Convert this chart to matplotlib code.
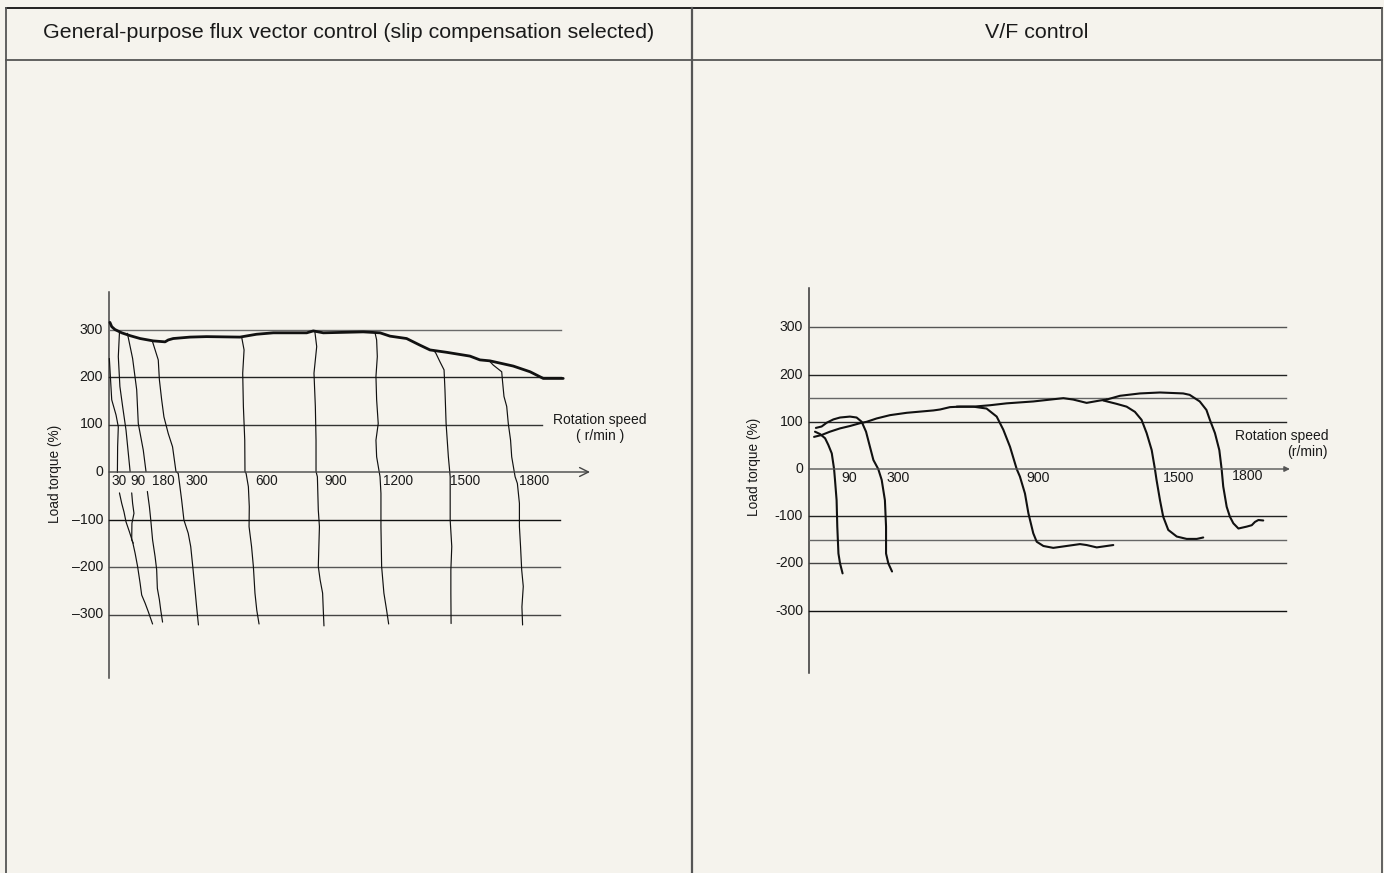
import matplotlib
matplotlib.use("Agg")
import matplotlib.pyplot as plt
import numpy as np

plt.rcParams['font.family'] = ['Liberation Sans', 'DejaVu Sans']

BG = '#f5f3ed'

# ---------------- DATA ----------------
# Left panel: General-purpose flux vector control
left_title = "General-purpose flux vector control (slip compensation selected)"
left_yticks = [300, 200, 100, 0, -100, -200, -300]
left_yticklabels = ["300", "200", "100", "0", "\u2013100", "\u2013200", "\u2013300"]
left_speed_labels = ["30", "90", "180", "300", "600", "900", "1200", "1500", "1800"]
left_speed_label_pos = [9, 92, 189, 339, 643, 947, 1207, 1502, 1806]

# envelope (maximum torque) curve: speed (r/min), torque (%)
env_speed = [4, 12, 26, 56, 93, 137, 195, 247, 261, 283, 357, 430, 577, 650, 724,
             871, 900, 944, 1120, 1194, 1238, 1311, 1370, 1414, 1487, 1590, 1634,
             1678, 1781, 1855, 1913, 2001]
env_torque = [315, 306, 300, 293, 287, 281, 276, 274, 278, 281, 284, 285, 284, 290, 293,
              293, 297, 293, 295, 293, 286, 281, 267, 257, 252, 244, 236,
              234, 223, 211, 197, 197]

# thin speed-torque curves (segments)
c30_up_s = [1.5, 12, 31, 41, 38, 37]
c30_up_t = [239, 152, 120, 95, 53, -1]
c30_lo_s = [46, 56, 66, 75, 90, 104, 115, 126, 137, 144, 159, 173, 192]
c30_lo_t = [-44, -66, -84, -105, -126, -147, -171, -199, -234, -259, -276, -294, -320]
c90_up_s = [46, 41, 48, 60, 75, 93]
c90_up_t = [293, 243, 180, 138, 88, 1]
c90_lo_s = [100, 104, 110, 101, 100, 107]
c90_lo_t = [-44, -66, -87, -108, -143, -150]
c180_up_s = [81, 104, 122, 129, 151, 163]
c180_up_t = [292, 239, 173, 102, 46, 1]
c180_lo_s = [169, 178, 184, 192, 203, 210, 213, 222, 228, 236]
c180_lo_t = [-41, -73, -101, -143, -178, -206, -245, -269, -291, -316]
c300_s = [192, 217, 222, 232, 242, 261, 280, 295, 305, 320, 330, 349, 360, 369, 379, 386, 394]
c300_t = [274, 236, 194, 152, 116, 81, 53, 1, -3, -59, -101, -129, -157, -199, -248, -284, -322]
c600_s = [584, 595, 589, 592, 598, 599, 604, 614, 618, 617, 628, 636, 643, 651, 661]
c600_t = [285, 257, 208, 138, 67, 1, -3, -31, -73, -115, -157, -199, -255, -291, -320]
c900_s = [907, 915, 903, 909, 912, 912, 918, 922, 927, 922, 930, 941, 944, 947]
c900_t = [295, 264, 208, 138, 67, 1, -10, -80, -115, -199, -227, -255, -291, -324]
c1200_s = [1172, 1179, 1182, 1176, 1179, 1186, 1176, 1179, 1194, 1198, 1198, 1201, 1211, 1223, 1232]
c1200_t = [293, 278, 243, 201, 152, 102, 67, 32, -10, -45, -115, -199, -255, -291, -320]
c1500_s = [1429, 1440, 1458, 1476, 1480, 1485, 1495, 1503, 1503, 1503, 1510, 1506, 1506, 1507]
c1500_t = [257, 250, 232, 215, 173, 102, 32, -10, -17, -101, -157, -206, -255, -319]
c1800_s = [1675, 1693, 1730, 1733, 1740, 1752, 1759, 1769, 1774, 1789, 1799, 1808, 1808, 1813,
           1818, 1825, 1819, 1822]
c1800_t = [234, 225, 211, 194, 159, 138, 102, 67, 32, -10, -24, -66, -115, -157,
           -206, -241, -284, -322]

left_thin = [(c30_up_s, c30_up_t), (c30_lo_s, c30_lo_t), (c90_up_s, c90_up_t),
             (c90_lo_s, c90_lo_t), (c180_up_s, c180_up_t), (c180_lo_s, c180_lo_t),
             (c300_s, c300_t), (c600_s, c600_t), (c900_s, c900_t),
             (c1200_s, c1200_t), (c1500_s, c1500_t), (c1800_s, c1800_t)]

# Right panel: V/F control
right_title = "V/F control"
right_grid = [300, 200, 150, 100, -100, -150, -200, -300]
right_yticks = [300, 200, 100, 0, -100, -200, -300]
right_yticklabels = ["300", "200", "100", "0", "-100", "-200", "-300"]
right_speed_labels = ["90", "300", "900", "1500", "1800"]
right_speed_label_pos = [142, 339, 946, 1538, 1838]
right_speed_label_t = [-19, -19, -19, -19, -15]

vf_env_s = [22, 55, 91, 135, 178, 222, 251, 294, 352, 425, 541, 570, 613, 657, 714, 787,
            859, 975, 1106, 1149, 1207, 1265, 1294]
vf_env_t = [68, 72, 79, 86, 91, 97, 100, 107, 114, 119, 124, 126, 131, 132, 132, 135,
            139, 143, 150, 147, 140, 145, 147]
vf1800_s = [1294, 1352, 1439, 1526, 1627, 1655, 1699, 1728, 1743, 1765, 1784, 1794, 1801,
            1816, 1830, 1845, 1867, 1903, 1925, 1939, 1954, 1975]
vf1800_t = [147, 155, 160, 162, 160, 157, 143, 125, 104, 76, 40, 0, -37,
            -80, -101, -115, -126, -122, -119, -112, -108, -109]
vf1500_s = [1280, 1337, 1381, 1417, 1446, 1468, 1490, 1504, 1511, 1526, 1540, 1562, 1599,
            1642, 1686, 1714]
vf1500_t = [145, 138, 132, 121, 104, 76, 40, 0, -23, -66, -101, -129, -143,
            -148, -148, -145]
vf900_s = [642, 714, 772, 816, 845, 874, 903, 917, 939, 954, 975, 990, 1019, 1062, 1120,
           1178, 1207, 1251, 1280, 1323]
vf900_t = [132, 132, 128, 111, 83, 47, 0, -16, -52, -94, -136, -154, -163, -167, -163,
           -159, -161, -166, -164, -161]
vf90_s = [26, 48, 70, 84, 99, 109, 113, 120, 123, 128, 135, 146]
vf90_t = [79, 74, 65, 51, 33, 0, -23, -66, -122, -179, -200, -221]
vf300_s = [30, 55, 77, 106, 135, 178, 207, 229, 248, 265, 280, 301, 316, 330, 335, 335,
           345, 361]
vf300_t = [87, 90, 98, 105, 109, 111, 109, 100, 79, 47, 19, 0, -23, -66, -122, -179,
           -200, -217]
right_curves = [(vf_env_s, vf_env_t), (vf1800_s, vf1800_t), (vf1500_s, vf1500_t),
                (vf900_s, vf900_t), (vf90_s, vf90_t), (vf300_s, vf300_t)]

# ---------------- FIGURE ----------------
W, H = 1384, 873
fig = plt.figure(figsize=(W / 100, H / 100), dpi=100, facecolor=BG)

# frame / table overlay in pixel coordinates
frame = fig.add_axes([0, 0, 1, 1], facecolor=BG)
frame.set_xlim(0, W)
frame.set_ylim(H, 0)
frame.axis('off')
frame.plot([6, 1382], [8, 8], color='#111111', lw=1.3)
frame.plot([6, 1382], [60, 60], color='#555555', lw=1.3)
frame.plot([6, 6], [8, H], color='#555555', lw=1.3)
frame.plot([691.5, 691.5], [8, H], color='#555555', lw=1.6)
frame.plot([1382, 1382], [8, H], color='#555555', lw=1.3)
frame.text(348.5, 32.5, left_title, ha='center', va='center', fontsize=15.4, color='#1a1a1a')
frame.text(1037, 32.5, right_title, ha='center', va='center', fontsize=15.4, color='#1a1a1a')


def px_axes(x0, x1, y0, y1):
    # x0,x1 pixel left/right ; y0 top pixel, y1 bottom pixel
    return fig.add_axes([x0 / W, 1 - y1 / H, (x1 - x0) / W, (y1 - y0) / H])


# ---- left chart ----
# mapping: px = 109 + 0.227*rpm ; py = 472 - 0.475*T
axL = px_axes(109 - 0.227 * 300, 109 + 0.227 * 2600, 472 - 0.475 * 420, 472 + 0.475 * 480)
axL.set_xlim(-300, 2600)
axL.set_ylim(-480, 420)
axL.axis('off')
axL.patch.set_alpha(0)

axL.plot([0, 0], [-434, 379], color='#444444', lw=1.1)
grid_ends_L = {300: 1991, 200: 1991, 100: 1907, -100: 1987, -200: 1987, -300: 1987}
grid_col_L = {300: '#6a6a6a', 200: '#222222', 100: '#333333', -100: '#111111',
              -200: '#555555', -300: '#444444'}
for lvl, xe in grid_ends_L.items():
    axL.plot([0, xe], [lvl, lvl], color=grid_col_L[lvl], lw=1.0)
axL.annotate('', xy=(2119, 0), xytext=(0, 0),
             arrowprops=dict(arrowstyle='->', lw=1.0, color='#444444', mutation_scale=16,
                             shrinkA=0, shrinkB=0))
for v, lab in zip(left_yticks, left_yticklabels):
    axL.text(-26, v, lab, ha='right', va='center', fontsize=10.2, color='#1a1a1a')
axL.text(-238, -4, "Load torque (%)", rotation=90, ha='center', va='center',
         fontsize=9.8, color='#1a1a1a')
for s, lab in zip(left_speed_label_pos, left_speed_labels):
    axL.text(s, -18, lab, ha='left', va='center', fontsize=9.8, color='#1a1a1a')
axL.text(2163, 92, "Rotation speed\n( r/min )", ha='center', va='center',
         multialignment='center', fontsize=10, color='#1a1a1a', linespacing=1.15)

for s, t in left_thin:
    axL.plot(s, t, color='#111111', lw=0.85, solid_capstyle='round')
axL.plot(env_speed, env_torque, color='#111111', lw=2.0, solid_capstyle='round',
         solid_joinstyle='round')

# ---- right chart ----
# mapping: px = 809 + 0.23*rpm ; py = 469 - 0.4723*T
axR = px_axes(809 - 0.23 * 300, 809 + 0.23 * 2400, 469 - 0.4723 * 420, 469 + 0.4723 * 480)
axR.set_xlim(-300, 2400)
axR.set_ylim(-480, 420)
axR.axis('off')
axR.patch.set_alpha(0)

axR.plot([0, 0], [-432, 383], color='#333333', lw=1.1)
grid_col_R = {300: '#555555', 200: '#222222', 150: '#666666', 100: '#222222',
              -100: '#222222', -150: '#666666', -200: '#444444', -300: '#111111'}
for lvl in right_grid:
    axR.plot([0, 2073], [lvl, lvl], color=grid_col_R[lvl], lw=1.0)
axR.annotate('', xy=(2091, 0), xytext=(0, 0),
             arrowprops=dict(arrowstyle='-|>', lw=1.0, color='#555555', mutation_scale=8,
                             shrinkA=0, shrinkB=0))
for v, lab in zip(right_yticks, right_yticklabels):
    axR.text(-26, v, lab, ha='right', va='center', fontsize=10.2, color='#1a1a1a')
axR.text(-239, 4, "Load torque (%)", rotation=90, ha='center', va='center',
         fontsize=9.8, color='#1a1a1a')
for s, t, lab in zip(right_speed_label_pos, right_speed_label_t, right_speed_labels):
    axR.text(s, t, lab, ha='left', va='center', fontsize=10.2, color='#1a1a1a')
axR.text(2257, 53, "Rotation speed\n(r/min)", ha='right', va='center',
         multialignment='right', fontsize=10, color='#1a1a1a', linespacing=1.15)

for s, t in right_curves:
    axR.plot(s, t, color='#111111', lw=1.5, solid_capstyle='round', solid_joinstyle='round')

fig.savefig("out.png", dpi=100, facecolor=BG)
